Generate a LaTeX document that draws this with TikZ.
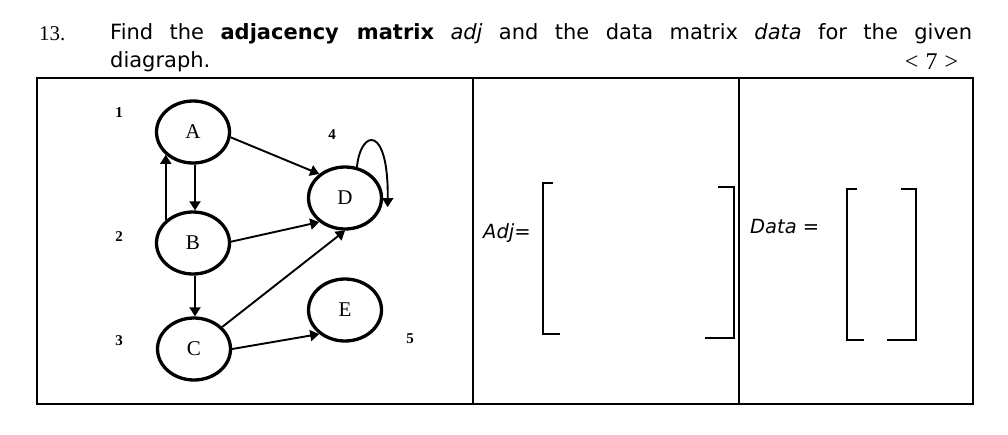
\documentclass[tikz,border=0pt]{standalone}
\usepackage{fontspec}
\setmainfont{Liberation Serif}
\setsansfont{DejaVu Sans}
\usetikzlibrary{arrows.meta,shapes.geometric}

\begin{document}
\begin{tikzpicture}[x=1pt,y=-1pt,
  vert/.style={draw,ellipse,line width=3.3pt,minimum width=73pt,minimum height=62pt,inner sep=0pt,font=\fontsize{21}{21}\selectfont},
  num/.style={font=\fontsize{15}{15}\selectfont\bfseries},
  edge/.style={-{Triangle[length=9pt,width=11pt]},line width=1.9pt},
  hdr/.style={font=\sffamily\fontsize{21}{24}\selectfont,inner sep=0pt,anchor=base west},
  grid/.style={line width=2.4pt},
  brak/.style={line width=1.8pt}]
  \useasboundingbox (0,0) rectangle (1008,434);

  \node[hdr] (qnum) at (39,40) {\rmfamily\fontsize{21}{24}\selectfont 13.};
  \node[hdr] (line1) at (110,39.5) {\makebox[862pt][s]{Find the \textbf{adjacency matrix} \textit{adj} and the data matrix \textit{data} for the given}};
  \node[hdr] (line2) at (110,67) {diagraph.};
  \node[anchor=base,inner sep=0pt,font=\fontsize{24}{24}\selectfont] (marks) at (931.5,69) {<\hspace{7pt}7\hspace{7pt}>};

  \draw[grid] (37,78) rectangle (973,404);
  \draw[grid] (473,78) -- (473,404);
  \draw[grid] (739,78) -- (739,404);

  \node[vert] (A) at (193,132) {A};
  \node[vert] (B) at (193,243) {B};
  \node[vert] (C) at (194,349) {C};
  \node[vert] (D) at (345,198) {D};
  \node[vert] (E) at (345,310) {E};

  \node[num] (n1) at (119,113) {1};
  \node[num] (n2) at (119,237) {2};
  \node[num] (n3) at (119,341) {3};
  \node[num] (n4) at (332,135) {4};
  \node[num] (n5) at (410,339) {5};

  \draw[edge] (A.-8) -- (D.137);
  \draw[edge] ([xshift=2pt]A.south) -- ([xshift=2pt]B.north);
  \draw[edge] (B.140) -- (A.220);
  \draw[edge] (B.2) -- (D.223);
  \draw[edge] ([xshift=2pt]B.south) -- ([xshift=1pt]C.north);
  \draw[edge] (C.38) -- (D.south);
  \draw[edge] (C.east) -- (E.223);
  \draw[edge] (D.69) .. controls +(4,-38) and +(1,-83) .. ([xshift=6pt]D.-14);

  \node[hdr,font=\sffamily\itshape\fontsize{19.5}{20}\selectfont] (adjlbl) at (483,238) {Adj=};
  \draw[brak] (553,183) -| (543,334) -- (560,334);
  \draw[brak] (718,187) -| (734,338) -- (705,338);

  \node[hdr,font=\sffamily\itshape\fontsize{19.5}{20}\selectfont] (datalbl) at (750,233) {Data =};
  \draw[brak] (857,189) -| (847,340) -- (864,340);
  \draw[brak] (901,189) -| (916,340) -- (887,340);
\end{tikzpicture}
\end{document}
